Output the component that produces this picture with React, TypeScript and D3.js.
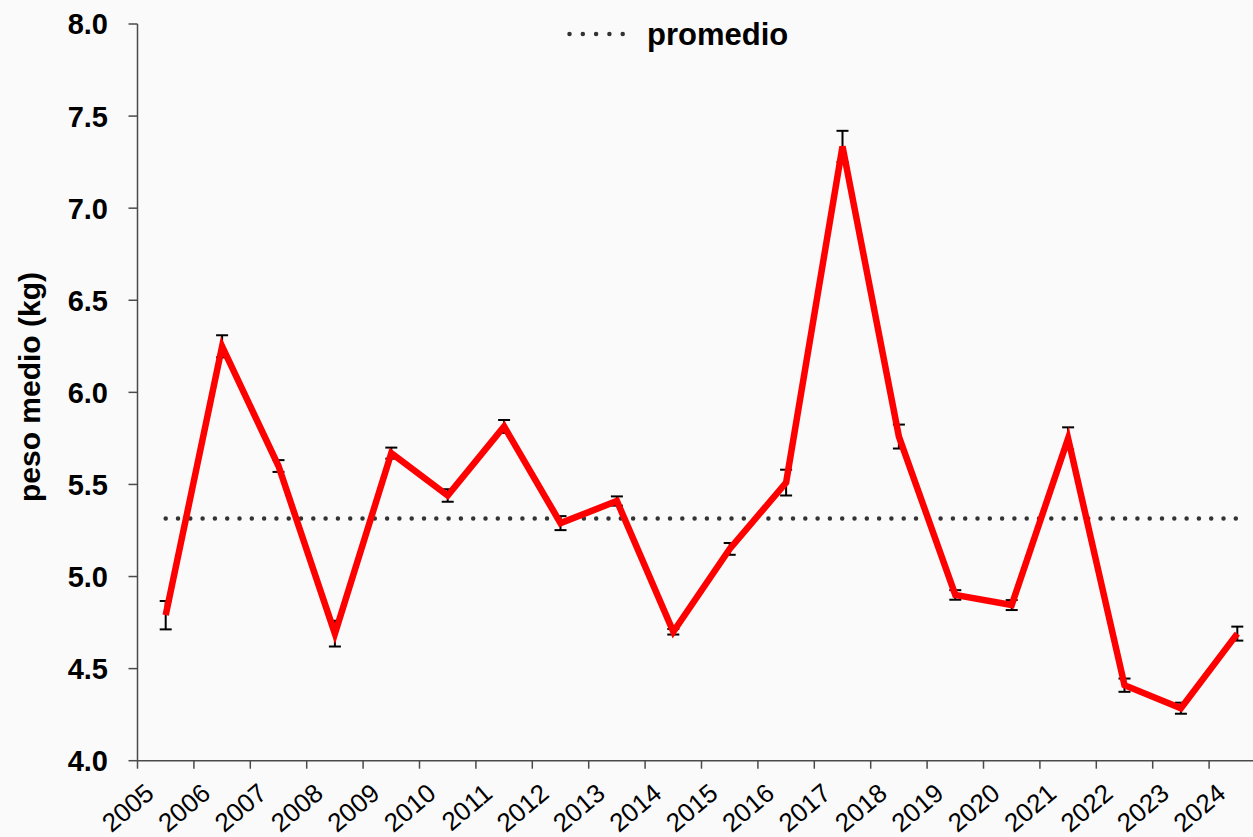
import React from "react";
import * as d3 from "d3";

const years = ["2005","2006","2007","2008","2009","2010","2011","2012","2013","2014","2015","2016","2017","2018","2019","2020","2021","2022","2023","2024"];
const pesoMedio = [4.79,6.25,5.60,4.69,5.67,5.44,5.815,5.29,5.41,4.70,5.15,5.51,7.335,5.76,4.90,4.845,5.75,4.41,4.285,4.69];
const errores = [0.077,0.06,0.032,0.07,0.03,0.034,0.035,0.038,0.025,0.015,0.032,0.07,0.085,0.065,0.026,0.027,0.06,0.036,0.03,0.038];
const yTicks = [4.0,4.5,5.0,5.5,6.0,6.5,7.0,7.5,8.0];
const legendLabel = "promedio";
const yTitle = "peso medio (kg)";

const W = 1253, H = 837;
const FONT = "'Liberation Sans', Arial, sans-serif";

export default function App() {
  const x = d3.scaleBand<string>().domain(years).range([137.5, 1265.5]).padding(0);
  const y = d3.scaleLinear().domain([4, 8]).range([760.7, 24]);
  const cx = (yr: string) => (x(yr) as number) + x.bandwidth() / 2;
  const avg = d3.mean(pesoMedio) as number;
  const line = d3.line<number>().x((_, i) => cx(years[i])).y((v) => y(v));
  const axisColor = "#4a4a4a";
  const x0 = 137.5, yb = y(4);
  return (
    <svg width={W} height={H} style={{ position: "absolute", left: 0, top: 0, background: "#fafafa" }} fontFamily={FONT}>
      <rect x={0} y={0} width={W} height={H} fill="#fafafa" />
      {/* y axis */}
      <line x1={x0} x2={x0} y1={y(8)} y2={yb} stroke={axisColor} strokeWidth={1.5} />
      {yTicks.map((t) => (
        <g key={t}>
          <line x1={x0 - 9} x2={x0} y1={y(t)} y2={y(t)} stroke={axisColor} strokeWidth={1.5} />
          <text x={108} y={y(t)} dy="0.36em" textAnchor="end" fontSize={29} fontWeight="bold" fill="#000">
            {d3.format(".1f")(t)}
          </text>
        </g>
      ))}
      {/* x axis */}
      <line x1={x0} x2={W} y1={yb} y2={yb} stroke={axisColor} strokeWidth={1.5} />
      {years.map((yr) => (
        <line key={"t" + yr} x1={x(yr) as number} x2={x(yr) as number} y1={yb} y2={yb + 8} stroke={axisColor} strokeWidth={1.5} />
      ))}
      {years.map((yr) => {
        const ax = cx(yr) - 10, ay = 796;
        return (
          <text key={"l" + yr} x={ax} y={ay} transform={`rotate(-40 ${ax} ${ay})`} textAnchor="end" fontSize={26} fill="#000">
            {yr}
          </text>
        );
      })}
      {/* y title */}
      <text transform={`translate(40 387) rotate(-90)`} textAnchor="middle" fontSize={30} fontWeight="bold" fill="#000">
        {yTitle}
      </text>
      {/* average line */}
      <line x1={cx(years[0])} x2={cx(years[years.length - 1])} y1={y(avg)} y2={y(avg)} stroke="#333" strokeWidth={4.5} strokeLinecap="round" strokeDasharray="0 12.3" />
      {/* error bars */}
      {years.map((yr, i) => {
        const c = cx(yr);
        const top = y(pesoMedio[i] + errores[i]);
        const bot = y(pesoMedio[i] - errores[i]);
        return (
          <g key={"e" + yr} stroke="#000" strokeWidth={2}>
            <line x1={c} x2={c} y1={top} y2={bot} />
            <line x1={c - 6} x2={c + 6} y1={top} y2={top} />
            <line x1={c - 6} x2={c + 6} y1={bot} y2={bot} />
          </g>
        );
      })}
      {/* main line */}
      <path d={line(pesoMedio) as string} fill="none" stroke="#ff0000" strokeWidth={6.5} strokeLinejoin="miter" />
      {/* legend */}
      <line x1={569.5} x2={636} y1={34} y2={34} stroke="#333" strokeWidth={4.5} strokeLinecap="round" strokeDasharray="0 13.3" />
      <text x={647} y={45} fontSize={31} fontWeight="bold" fill="#000">{legendLabel}</text>
    </svg>
  );
}
